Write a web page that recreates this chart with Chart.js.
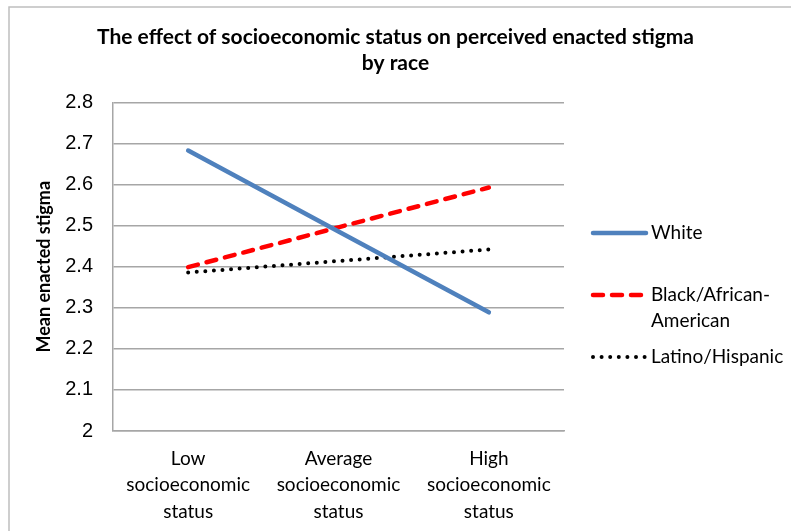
<!DOCTYPE html>
<html>
<head>
<meta charset="utf-8">
<title>Enacted stigma by socioeconomic status and race</title>
<script src="https://cdn.jsdelivr.net/npm/chart.js@4.4.1/dist/chart.umd.min.js"></script>
<style>
  html, body { margin: 0; padding: 0; background: #ffffff; }
  #wrap { width: 791px; height: 531px; position: relative; }
</style>
</head>
<body>
<div id="wrap"><canvas id="chart" width="791" height="531"></canvas></div>
<script>
// Categories (x axis), one multi-line label each
const categories = [
  ['Low', 'socioeconomic', 'status'],
  ['Average', 'socioeconomic', 'status'],
  ['High', 'socioeconomic', 'status']
];

// Mean enacted stigma per race group
const whiteValues  = [2.683, 2.486, 2.289];
const blackValues  = [2.399, 2.496, 2.593];
const latinoValues = [2.386, 2.414, 2.442];

// Series names as shown in the legend (line breaks kept)
const seriesNames = [['White'], ['Black/African-', 'American'], ['Latino/Hispanic']];

// Y axis range and step
const yMin = 2, yMax = 2.8, yStep = 0.1;

const TEXT_FONT = 'Lato, "Liberation Sans Narrow", sans-serif';
const NUM_FONT = '"Liberation Sans", Arial, sans-serif';

// Frame around the chart (top and left edges)
const framePlugin = {
  id: 'frame',
  beforeDraw(chart) {
    const ctx = chart.ctx;
    ctx.save();
    ctx.fillStyle = '#ffffff';
    ctx.fillRect(0, 0, chart.width, chart.height);
    ctx.strokeStyle = '#bfbfbf';
    ctx.lineWidth = 1.5;
    ctx.beginPath();
    ctx.moveTo(9, chart.height);
    ctx.lineTo(9, 7);
    ctx.lineTo(chart.width, 7);
    ctx.stroke();
    ctx.restore();
  }
};

// Legend on the right, built from each dataset's own line style
const sideLegendPlugin = {
  id: 'sideLegend',
  afterDraw(chart, args, opts) {
    const ctx = chart.ctx;
    ctx.save();
    ctx.font = opts.font;
    ctx.textBaseline = 'middle';
    ctx.textAlign = 'left';
    chart.data.datasets.forEach((ds, i) => {
      const y = opts.rows[i];
      ctx.save();
      ctx.strokeStyle = ds.borderColor;
      ctx.lineWidth = ds.borderWidth;
      ctx.lineCap = ds.borderCapStyle || 'butt';
      ctx.setLineDash(ds.borderDash || []);
      ctx.beginPath();
      ctx.moveTo(opts.x0, y);
      ctx.lineTo(opts.x1, y);
      ctx.stroke();
      ctx.restore();
      ctx.fillStyle = '#000000';
      ds.legendLines.forEach((line, k) => {
        ctx.fillText(line, opts.textX, y + k * opts.lineHeight);
      });
    });
    ctx.restore();
  }
};

const datasets = [
  {
    label: seriesNames[0].join(' '),
    legendLines: seriesNames[0],
    data: whiteValues,
    borderColor: '#4f81bd',
    borderWidth: 4.5,
    borderCapStyle: 'round'
  },
  {
    label: seriesNames[1].join(''),
    legendLines: seriesNames[1],
    data: blackValues,
    borderColor: '#ff0000',
    borderWidth: 4.5,
    borderDash: [10, 9],
    borderCapStyle: 'round'
  },
  {
    label: seriesNames[2].join(' '),
    legendLines: seriesNames[2],
    data: latinoValues,
    borderColor: '#000000',
    borderWidth: 4,
    borderDash: [0, 8.6],
    borderCapStyle: 'round'
  }
];

new Chart(document.getElementById('chart'), {
  type: 'line',
  data: { labels: categories, datasets: datasets },
  plugins: [framePlugin, sideLegendPlugin],
  options: {
    responsive: false,
    animation: false,
    devicePixelRatio: 1,
    layout: { padding: { left: 0, right: 0, top: 0, bottom: 0 } },
    elements: {
      point: { radius: 0, hoverRadius: 0 },
      line: { tension: 0 }
    },
    plugins: {
      legend: { display: false },
      tooltip: { enabled: false },
      title: {
        display: true,
        text: ['The effect of socioeconomic status on perceived enacted stigma', 'by race'],
        color: '#000000',
        font: { family: TEXT_FONT, size: 21, weight: 'bold', lineHeight: 1.25 },
        padding: { top: 24, bottom: 26 }
      },
      sideLegend: {
        font: '19px ' + TEXT_FONT,
        x0: 593, x1: 646, textX: 651,
        rows: [233, 295, 357],
        lineHeight: 26
      }
    },
    scales: {
      x: {
        type: 'category',
        offset: true,
        grid: { display: false, drawTicks: false },
        border: { display: true, color: '#a6a6a6', width: 1.5 },
        ticks: {
          color: '#000000',
          font: { family: TEXT_FONT, size: 19, lineHeight: 1.38 },
          padding: 15,
          maxRotation: 0,
          autoSkip: false
        },
        afterFit(scale) { scale.height = 100; }
      },
      y: {
        min: yMin,
        max: yMax,
        grid: { color: '#a6a6a6', lineWidth: 1.5, drawTicks: false },
        border: { display: true, color: '#a6a6a6', width: 1.5 },
        ticks: {
          stepSize: yStep,
          color: '#000000',
          font: { family: NUM_FONT, size: 20 },
          padding: 20,
          callback(v) { return Math.round(v * 10) / 10; }
        },
        title: {
          display: true,
          text: 'Mean enacted stigma',
          color: '#000000',
          font: { family: TEXT_FONT, size: 18, weight: 'bold' },
          padding: { top: 33, bottom: 0 }
        },
        afterFit(scale) { scale.width = 113; }
      },
      // Empty right-hand axis that keeps room for the legend
      legendSpace: {
        type: 'linear',
        position: 'right',
        display: true,
        grid: { display: false, drawTicks: false },
        border: { display: false },
        ticks: { display: false },
        afterFit(scale) { scale.width = 227; }
      }
    }
  }
});
</script>
</body>
</html>
